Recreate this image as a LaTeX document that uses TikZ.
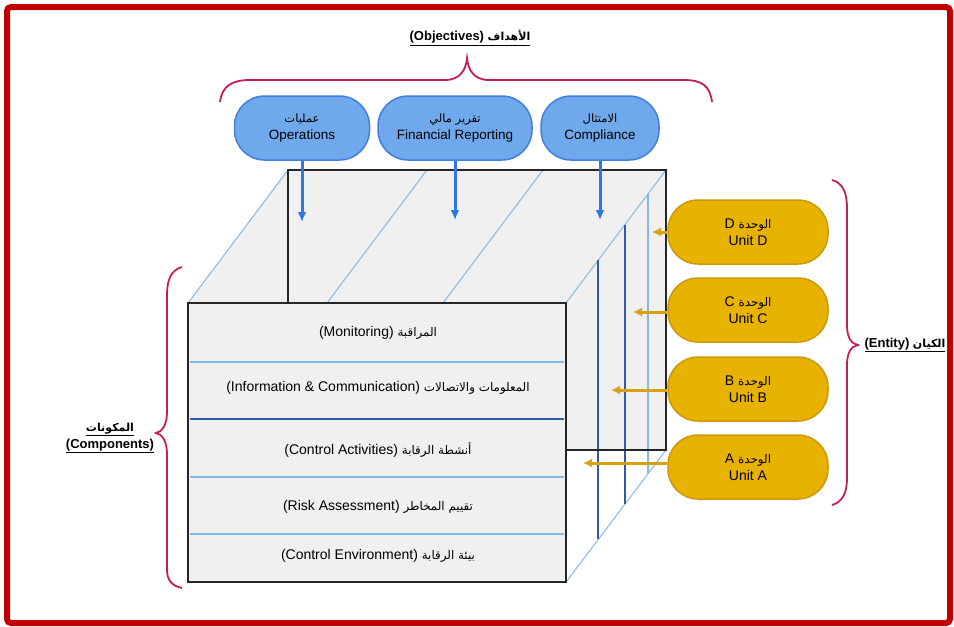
\documentclass[tikz,border=0pt]{standalone}
\usepackage{fontspec}
\setmainfont{Liberation Sans}
\newfontfamily\arabicfont[Script=Arabic,Scale=0.85]{DejaVu Sans}
\TeXXeTstate=1
\usetikzlibrary{arrows.meta}
\usepackage{xcolor}

\definecolor{framered}{RGB}{192,0,0}
\definecolor{facegray}{RGB}{240,240,240}
\definecolor{objfill}{RGB}{112,168,236}
\definecolor{objline}{RGB}{66,128,222}
\definecolor{objarrow}{RGB}{45,120,230}
\definecolor{unitfill}{RGB}{232,178,0}
\definecolor{unitline}{RGB}{205,152,10}
\definecolor{unitarrow}{RGB}{218,160,20}
\definecolor{bracecol}{RGB}{196,30,90}
\definecolor{lightline}{RGB}{130,185,230}
\definecolor{darkline}{RGB}{50,90,170}

% arabic words, set right to left
\newcommand{\artext}[1]{{\arabicfont\beginR #1\endR}}

\begin{document}
\begin{tikzpicture}[x=1pt, y=-1pt,
	objbox/.style={draw=objline, fill=objfill, line width=1.5pt, rounded corners=30pt,
		minimum height=64pt, align=center, font=\fontsize{13.5}{17}\selectfont},
	unitbox/.style={draw=unitline, fill=unitfill, line width=1.5pt, rounded corners=30pt,
		minimum width=160pt, minimum height=64pt, align=center, font=\fontsize{14}{17}\selectfont},
	rowtext/.style={font=\fontsize{14}{17}\selectfont},
	labeltext/.style={font=\fontsize{13}{17}\bfseries\selectfont, align=center},
	edge/.style={draw=black!85, line width=2.2pt},
	bracestyle/.style={draw=bracecol, line width=1.8pt},
	objarr/.style={draw=objarrow, line width=3pt, -{Latex[length=10pt,width=9pt]}},
	unitarr/.style={draw=unitarrow, line width=3pt, -{Latex[length=9pt,width=9pt]}}]
	\useasboundingbox (0,0) rectangle (954,627);
	\draw[framered, line width=6pt, rounded corners=4pt] (7,7) rectangle (950,623);

	% cube corners
	\coordinate (ftl) at (188,303);
	\coordinate (ftr) at (566,303);
	\coordinate (fbr) at (566,582);
	\coordinate (btl) at (288,170);
	\coordinate (btr) at (666,170);
	\coordinate (bbr) at (666,450);

	% back and top faces
	\fill[facegray] (ftl) -- (btl) -- (btr) -- (bbr) -- (ftl |- bbr) -- cycle;
	\foreach \x in {188,327,443,566}
		\draw[lightline, line width=1pt] (\x,303) -- ++(100,-133);
	\draw[lightline, line width=1pt] (fbr) -- (bbr);
	\foreach \t/\c in {0.32/darkline, 0.59/darkline, 0.82/lightline}
		\draw[\c, line width=1.2pt] ({566+100*\t},{303-133*\t}) -- ({566+100*\t},{582-133*\t});
	\draw[edge] (ftl -| btl) -- (btl) -- (btr) -- (bbr) -- (fbr |- bbr);

	% front face with the five components
	\draw[edge, fill=facegray] (ftl) rectangle (fbr);
	\foreach \y/\c/\w in {362/lightline/1.2, 419/darkline/1.5, 477/lightline/2, 534/lightline/2}
		\draw[\c, line width=\w pt] (190,\y) -- (564,\y);
	\node (mon) [rowtext] at (378,333) {(Monitoring) \artext{المراقبة}};
	\node (info) [rowtext] at (378,388) {(Information \& Communication) \artext{المعلومات والاتصالات}};
	\node (act) [rowtext] at (378,450) {(Control Activities) \artext{أنشطة الرقابة}};
	\node (risk) [rowtext] at (378,507) {(Risk Assessment) \artext{تقييم المخاطر}};
	\node (env) [rowtext] at (378,556) {(Control Environment) \artext{بيئة الرقابة}};

	% objectives
	\node (ops) [objbox, minimum width=135pt] at (302,128) {\artext{عمليات}\\Operations};
	\node (fin) [objbox, minimum width=154pt] at (455,128) {\artext{تقرير مالي}\\Financial Reporting};
	\node (comp) [objbox, minimum width=118pt] at (600,128) {\artext{الامتثال}\\Compliance};
	\coordinate (opsEnd) at (302,222);
	\coordinate (finEnd) at (455,220);
	\coordinate (compEnd) at (600,220);
	\draw[objarr] (ops) -- (opsEnd);
	\draw[objarr] (fin) -- (finEnd);
	\draw[objarr] (comp) -- (compEnd);

	% units of the entity
	\node (unitD) [unitbox] at (748,232) {D \artext{الوحدة}\\Unit D};
	\node (unitC) [unitbox] at (748,310) {C \artext{الوحدة}\\Unit C};
	\node (unitB) [unitbox] at (748,389) {B \artext{الوحدة}\\Unit B};
	\node (unitA) [unitbox] at (748,467) {A \artext{الوحدة}\\Unit A};
	\coordinate (dEnd) at (652,232);
	\coordinate (cEnd) at (633,312);
	\coordinate (bEnd) at (611,390);
	\coordinate (aEnd) at (583,463);
	\draw[unitarr] (unitD) -- (dEnd);
	\draw[unitarr] (unitC.west |- cEnd) -- (cEnd);
	\draw[unitarr] (unitB.west |- bEnd) -- (bEnd);
	\draw[unitarr] (unitA.west |- aEnd) -- (aEnd);

	% braces
	\draw[bracestyle] (220,102) .. controls (222,86) and (232,80) .. (250,80) -- (445,80)
		.. controls (460,80) and (466,70) .. (467,58) .. controls (468,70) and (474,80) .. (489,80)
		-- (684,80) .. controls (702,80) and (710,86) .. (712,102);
	\draw[bracestyle] (182,267) .. controls (171,270) and (167,280) .. (167,295) -- (167,412)
		.. controls (167,425) and (162,432) .. (156,433) .. controls (162,434) and (167,441) .. (167,454)
		-- (167,570) .. controls (167,580) and (172,586) .. (182,588);
	\draw[bracestyle] (832,180) .. controls (843,183) and (847,193) .. (847,208) -- (847,325)
		.. controls (847,337) and (851,344) .. (858,345) .. controls (851,346) and (847,353) .. (847,365)
		-- (847,478) .. controls (847,492) and (843,502) .. (832,505);

	% titles
	\node (objlabel) [labeltext] at (470,38) {\underline{(Objectives) \artext{الأهداف}}};
	\node (complabel) [labeltext] at (110,438) {\underline{\artext{المكونات}}\\\underline{(Components)}};
	\node (entlabel) [labeltext] at (905,345) {\underline{(Entity) \artext{الكيان}}};
\end{tikzpicture}
\end{document}
